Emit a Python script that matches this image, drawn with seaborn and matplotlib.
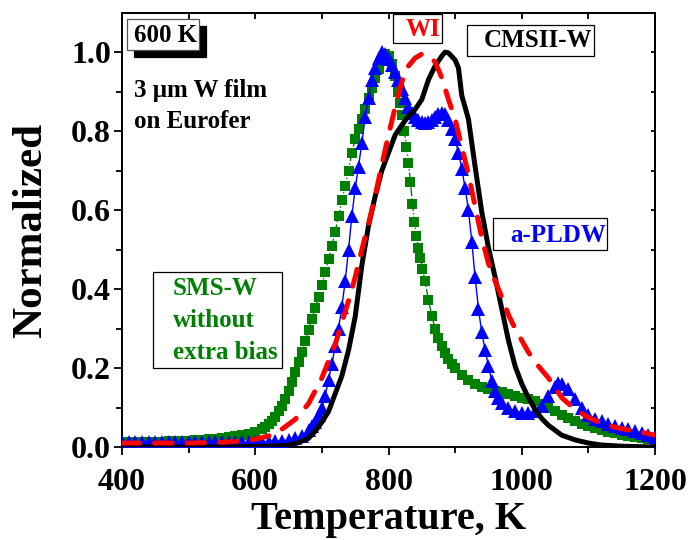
import numpy as np
import pandas as pd
import matplotlib
matplotlib.use('Agg')
import matplotlib.pyplot as plt
import seaborn as sns
from matplotlib.patches import Rectangle
from matplotlib.ticker import MultipleLocator

# ---------------- data ----------------
sms_T = [400, 410, 420, 430, 440, 450, 460, 470, 480, 490, 500, 510, 520, 530, 540, 550, 560, 570, 580, 590,
         600, 610, 615, 620, 625, 630, 635, 640, 645, 650, 655, 660, 665, 670, 675, 680, 685, 690, 695, 700,
         705, 710, 715, 720, 725, 730, 735, 740, 745, 750, 755, 760, 765, 770, 775, 780, 785, 790, 795, 800,
         805, 810, 815, 818, 821, 824, 827, 830, 833, 836, 839, 842, 845, 848, 851, 855, 860, 865, 870, 875,
         880, 885, 890, 895, 900, 910, 920, 930, 940, 950, 960, 970, 980, 990, 1000, 1010, 1020, 1030, 1040,
         1050, 1060, 1070, 1080, 1090, 1100, 1110, 1120, 1130, 1140, 1150, 1160, 1170, 1180, 1190, 1200]
sms_y = [0.012, 0.012, 0.012, 0.012, 0.012, 0.013, 0.013, 0.014, 0.014, 0.015, 0.016, 0.017, 0.018, 0.019, 0.021,
         0.023, 0.025, 0.028, 0.031, 0.034, 0.038, 0.045, 0.050, 0.057, 0.066, 0.077, 0.090, 0.105, 0.122, 0.142,
         0.165, 0.190, 0.215, 0.240, 0.268, 0.297, 0.325, 0.352, 0.380, 0.410, 0.442, 0.475, 0.510, 0.545, 0.585,
         0.625, 0.660, 0.700, 0.745, 0.780, 0.805, 0.830, 0.855, 0.885, 0.910, 0.935, 0.958, 0.980, 0.995, 0.990,
         0.970, 0.940, 0.900, 0.870, 0.840, 0.800, 0.760, 0.720, 0.670, 0.615, 0.570, 0.535, 0.505, 0.478, 0.452,
         0.420, 0.372, 0.332, 0.300, 0.275, 0.255, 0.238, 0.223, 0.210, 0.200, 0.183, 0.170, 0.160, 0.153, 0.147,
         0.143, 0.139, 0.134, 0.129, 0.125, 0.122, 0.117, 0.110, 0.100, 0.090, 0.081, 0.073, 0.066, 0.059, 0.053,
         0.048, 0.043, 0.039, 0.035, 0.031, 0.028, 0.025, 0.022, 0.019, 0.017]

pld_T = [400, 410, 420, 430, 440, 450, 460, 470, 480, 490, 500, 510, 520, 530, 540, 550, 560, 570, 580, 590,
         600, 610, 620, 630, 640, 650, 660, 670, 680, 685, 690, 695, 700, 705, 710, 715, 720, 725, 730, 735,
         740, 745, 750, 755, 760, 765, 770, 775, 780, 785, 790, 795, 800, 805, 810, 815, 820, 825, 830, 835,
         840, 845, 850, 855, 860, 865, 870, 875, 880, 885, 890, 895, 900, 905, 910, 915, 920, 925, 930, 935,
         940, 945, 950, 955, 960, 965, 970, 980, 990, 1000, 1010, 1020, 1030, 1040, 1050, 1055, 1060, 1070,
         1080, 1090, 1100, 1110, 1120, 1130, 1140, 1150, 1160, 1170, 1180, 1190, 1200]
pld_y = [0.012, 0.012, 0.012, 0.012, 0.012, 0.012, 0.012, 0.012, 0.012, 0.012, 0.012, 0.012, 0.012, 0.012, 0.012,
         0.012, 0.012, 0.012, 0.012, 0.012, 0.012, 0.013, 0.013, 0.014, 0.016, 0.018, 0.022, 0.029, 0.042, 0.052,
         0.064, 0.080, 0.100, 0.130, 0.170, 0.210, 0.255, 0.300, 0.355, 0.420, 0.500, 0.585, 0.655, 0.710, 0.770,
         0.835, 0.885, 0.930, 0.960, 0.985, 1.000, 0.995, 0.982, 0.967, 0.950, 0.930, 0.907, 0.883, 0.862, 0.846,
         0.835, 0.827, 0.822, 0.820, 0.822, 0.828, 0.835, 0.843, 0.847, 0.842, 0.828, 0.805, 0.780, 0.745, 0.705,
         0.655, 0.600, 0.520, 0.430, 0.350, 0.290, 0.245, 0.205, 0.168, 0.142, 0.124, 0.112, 0.099, 0.091, 0.087,
         0.086, 0.090, 0.104, 0.128, 0.153, 0.163, 0.160, 0.146, 0.122, 0.098, 0.082, 0.072, 0.065, 0.059, 0.054,
         0.049, 0.045, 0.040, 0.035, 0.030, 0.025]

wi_T = [400, 450, 500, 550, 580, 600, 620, 640, 660, 680, 700, 720, 740, 750, 760, 770, 780, 790, 800, 810,
        820, 830, 840, 850, 860, 870, 880, 890, 900, 910, 920, 930, 940, 950, 960, 970, 980, 990, 1000, 1010,
        1020, 1030, 1040, 1050, 1060, 1070, 1080, 1100, 1120, 1140, 1160, 1180, 1200]
wi_y = [0.010, 0.010, 0.010, 0.012, 0.015, 0.020, 0.028, 0.045, 0.070, 0.110, 0.175, 0.260, 0.370, 0.430, 0.500,
        0.565, 0.635, 0.715, 0.790, 0.860, 0.925, 0.965, 0.985, 0.995, 0.990, 0.975, 0.935, 0.880, 0.830, 0.760,
        0.690, 0.610, 0.530, 0.465, 0.420, 0.380, 0.335, 0.300, 0.270, 0.240, 0.215, 0.195, 0.175, 0.150, 0.125,
        0.110, 0.095, 0.075, 0.060, 0.050, 0.043, 0.037, 0.030]

cms_T = [400, 500, 600, 640, 660, 680, 690, 700, 710, 720, 730, 740, 750, 760, 770, 780, 790, 800, 810, 820,
         830, 840, 850, 860, 870, 880, 885, 890, 900, 905, 910, 915, 920, 925, 930, 940, 950, 960, 970, 980,
         990, 1000, 1010, 1020, 1030, 1040, 1060, 1080, 1100, 1120, 1150, 1200]
cms_y = [0.000, 0.000, 0.001, 0.003, 0.008, 0.022, 0.040, 0.063, 0.090, 0.135, 0.180, 0.245, 0.330, 0.460, 0.560,
         0.635, 0.700, 0.745, 0.790, 0.815, 0.838, 0.855, 0.880, 0.930, 0.965, 0.990, 1.000, 0.998, 0.980, 0.960,
         0.890, 0.860, 0.830, 0.770, 0.710, 0.595, 0.505, 0.430, 0.350, 0.270, 0.205, 0.160, 0.125, 0.095, 0.072,
         0.055, 0.030, 0.018, 0.010, 0.005, 0.002, 0.000]

x_ticks = [400, 600, 800, 1000, 1200]
y_ticks = [0.0, 0.2, 0.4, 0.6, 0.8, 1.0]

GREEN = '#008000'
BLUE = '#0000ff'
RED = '#ff0000'
BLACK = '#000000'

# ---------------- style ----------------
sns.set_theme(style='ticks')
plt.rcParams['font.family'] = ['Liberation Serif', 'DejaVu Serif']
plt.rcParams['font.weight'] = 'bold'
plt.rcParams['axes.labelweight'] = 'bold'
plt.rcParams['text.color'] = 'black'
plt.rcParams['axes.labelcolor'] = 'black'
plt.rcParams['axes.edgecolor'] = 'black'
plt.rcParams['xtick.color'] = 'black'
plt.rcParams['ytick.color'] = 'black'

fig = plt.figure(figsize=(6.93, 5.40), dpi=100)
ax = fig.add_axes([122 / 693, 93 / 540, 533 / 693, 434 / 540])

sns.lineplot(x=sms_T, y=sms_y, ax=ax, color=GREEN, linestyle='-.', linewidth=1.0,
             marker='s', markersize=7.2, markeredgewidth=0, sort=False, estimator=None, zorder=2)
sns.lineplot(x=pld_T, y=pld_y, ax=ax, color=BLUE, linestyle='-', linewidth=1.0,
             marker='^', markersize=10, markeredgewidth=0, sort=False, estimator=None, zorder=3)
sns.lineplot(x=cms_T, y=cms_y, ax=ax, color=BLACK, linewidth=3.6, sort=False, estimator=None, zorder=4)
sns.lineplot(x=wi_T, y=wi_y, ax=ax, color=RED, linewidth=3.6, linestyle=(0, (3.5, 3.0)),
             dash_capstyle='round', sort=False, estimator=None, zorder=5)

ax.set_xlim(400, 1200)
ax.set_ylim(0, 1.099)
ax.set_xticks(x_ticks)
ax.set_yticks(y_ticks)
ax.set_xticklabels([str(t) for t in x_ticks])
ax.set_yticklabels([f'{t:.1f}' for t in y_ticks])
ax.xaxis.set_minor_locator(MultipleLocator(100))
ax.yaxis.set_minor_locator(MultipleLocator(0.1))

for sp in ax.spines.values():
    sp.set_linewidth(1.4)
    sp.set_color('black')
    sp.set_visible(True)

ax.tick_params(axis='both', which='major', direction='out', length=6, width=1.3,
               labelsize=23, colors='black')
ax.tick_params(axis='x', which='major', pad=9)
ax.tick_params(axis='y', which='major', pad=2)
ax.tick_params(axis='both', which='minor', direction='out', length=4.5, width=1.3, colors='black')
for lab in ax.get_xticklabels() + ax.get_yticklabels():
    lab.set_fontweight('bold')

secx = ax.secondary_xaxis('top')
secx.xaxis.set_major_locator(MultipleLocator(100))
secx.tick_params(direction='in', length=4, width=1.3, labeltop=False)
secy = ax.secondary_yaxis('right')
secy.yaxis.set_major_locator(MultipleLocator(0.1))
secy.tick_params(direction='in', length=3, width=1.3, labelright=False)

ax.set_xlabel('Temperature, K', fontsize=29, fontweight='bold', color='black', labelpad=3)
ax.set_ylabel('Normalized', fontsize=31, fontweight='bold', color='black', labelpad=15)


# ---------------- annotations ----------------
def fx(px):
    return (px - 122) / 533


def fy(py):
    return (447 - py) / 434


def box(x0, y0, x1, y1, face='white', lw=0.9, ec='black', z=6):
    r = Rectangle((fx(x0), fy(y1)), fx(x1) - fx(x0), fy(y0) - fy(y1), transform=ax.transAxes,
                  facecolor=face, edgecolor=ec, linewidth=lw, zorder=z)
    ax.add_patch(r)


TXT = dict(transform=ax.transAxes, fontsize=18, fontweight='bold', zorder=8, va='baseline')

# 600 K with shadow
box(134, 26, 206, 57, face='black', ec='black', z=6)
box(127, 19, 199, 50, face='white', ec='#555555', z=7)
ax.text(fx(166), fy(42), '600 K', ha='center', color='black', **TXT)

ax.text(fx(134), fy(97), '3 \u03bcm W film', ha='left', color='black', **TXT)
ax.text(fx(134), fy(128), 'on Eurofer', ha='left', color='black', **TXT)

box(393, 14, 442, 43)
ax.text(fx(423), fy(36), 'WI', ha='center', color=RED, **TXT)

box(467, 25, 594, 56)
ax.text(fx(538), fy(47), 'CMSII-W', ha='center', color='black', **TXT)

box(493, 218, 607, 250)
ax.text(fx(558), fy(242), 'a-PLDW', ha='center', color=BLUE, **TXT)

box(153, 272, 282, 368)
ax.text(fx(173), fy(295), 'SMS-W', ha='left', color=GREEN, **TXT)
ax.text(fx(173), fy(327), 'without', ha='left', color=GREEN, **TXT)
ax.text(fx(173), fy(359), 'extra bias', ha='left', color=GREEN, **TXT)

fig.savefig('out.png', dpi=100)
